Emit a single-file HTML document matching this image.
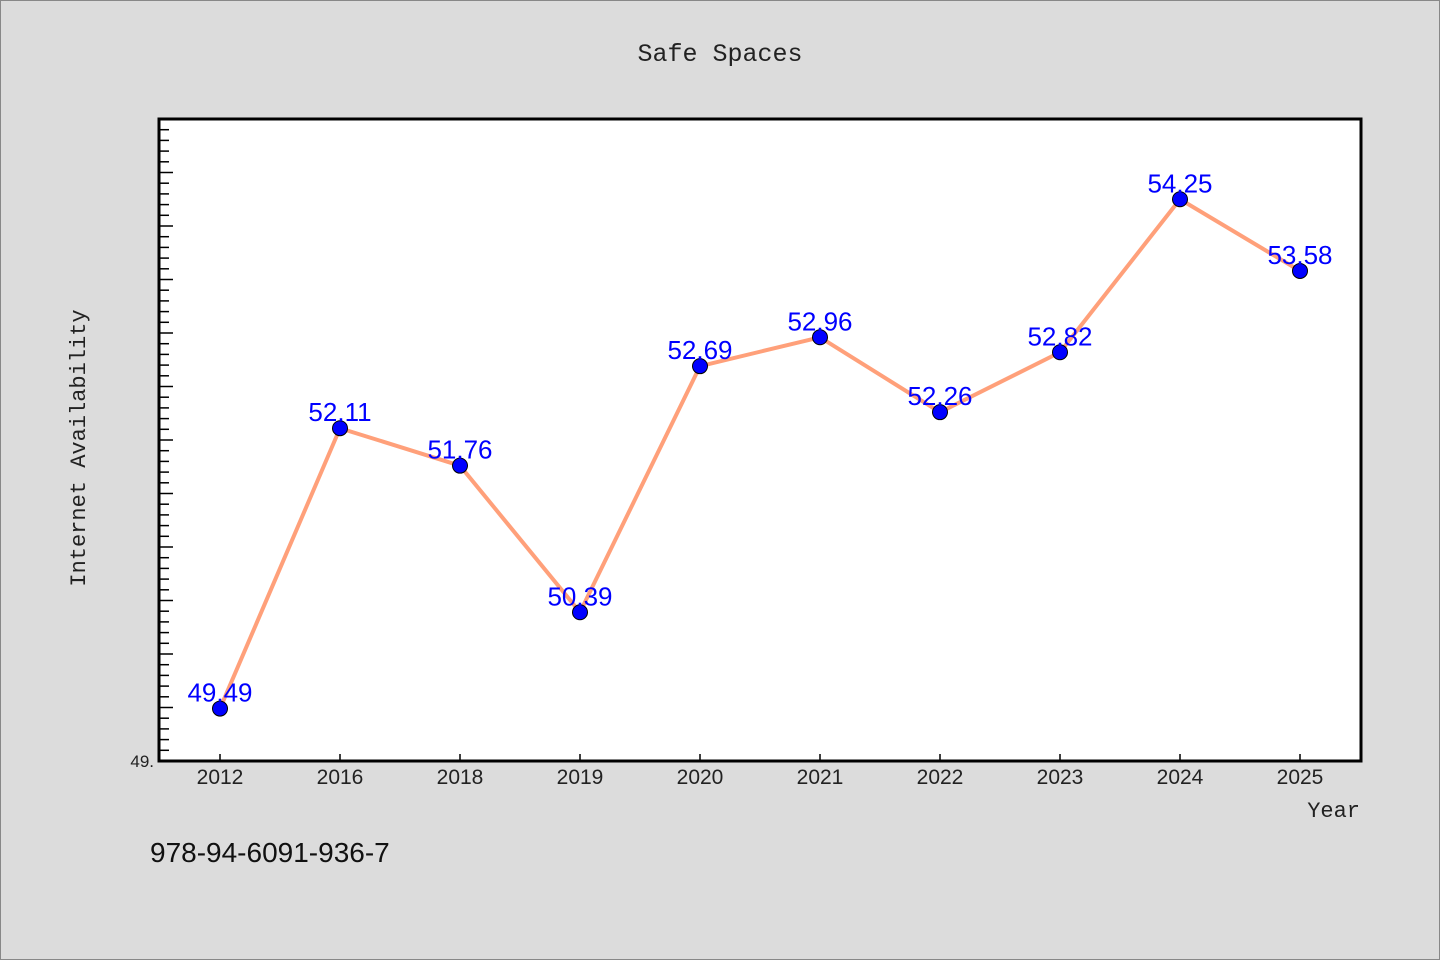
<!DOCTYPE html>
<html><head><meta charset="utf-8"><style>
html,body{margin:0;padding:0;background:#dcdcdc;}
svg{display:block;font-family:"Liberation Mono","DejaVu Sans Mono",monospace;}
</style></head><body>
<svg id="c" width="1440" height="960">
<rect x="0.5" y="0.5" width="1439" height="959" fill="#dcdcdc" stroke="#888"/>
<text x="720" y="61" text-anchor="middle" font-size="25" fill="#222">Safe Spaces</text>
<rect x="159" y="119" width="1202" height="642" fill="#fff"/>
<g id="ticks"></g>
<g id="series"></g>
<rect x="159" y="119" width="1202" height="642" fill="none" stroke="#000" stroke-width="3"/>
<text x="85" y="448" transform="rotate(-90 85 448)" text-anchor="middle" font-size="22" fill="#222">Internet Availability</text>
<text x="1360" y="817" text-anchor="end" font-size="22" fill="#222">Year</text>
<text x="150" y="862" font-family="Liberation Sans, sans-serif" font-size="28" fill="#111">978-94-6091-936-7</text>
</svg>
<script>
const categories=["2012","2016","2018","2019","2020","2021","2022","2023","2024","2025"];
const values=[49.49,52.11,51.76,50.39,52.69,52.96,52.26,52.82,54.25,53.58];
const valueLabels=["49.49","52.11","51.76","50.39","52.69","52.96","52.26","52.82","54.25","53.58"];
const yMin=49,yMax=55;
const L=159,R=1361,T=119,B=761;
const NS="http://www.w3.org/2000/svg";
function y(v){return B-(v-yMin)/(yMax-yMin)*(B-T);}
function x(i){return 220+i*120;}
function mk(t,a,p){const e=document.createElementNS(NS,t);for(const k in a)e.setAttribute(k,a[k]);p.appendChild(e);return e;}
const tk=document.getElementById('ticks');
for(let i=0;i<=60;i++){
  const v=yMin+i*0.1, yy=y(v), major=i%5===0;
  const t=mk('line',{x1:L,x2:L+(major?14:10),y1:yy,y2:yy,stroke:'#000','stroke-width':1.5},tk);
  
  
}
const yl=mk('text',{x:154,y:B+6,'text-anchor':'end','font-size':17,fill:'#222','font-family':'Liberation Sans, sans-serif'},tk);
yl.textContent='49.';


categories.forEach((c,i)=>{
  const t=mk('line',{x1:x(i),x2:x(i),y1:B-7,y2:B,stroke:'#000','stroke-width':1.5},tk);
  
  
  const l=mk('text',{x:x(i),y:B+23,'text-anchor':'middle','font-size':21,fill:'#222','font-family':'Liberation Sans, sans-serif'},tk);
  l.textContent=c;
  
  
});
const sg=document.getElementById('series');
const pl=mk('polyline',{points:values.map((v,i)=>x(i)+','+y(v)).join(' '),fill:'none',stroke:'#ffa07a','stroke-width':4,'stroke-linejoin':'round'},sg);


values.forEach((v,i)=>{
  const c=mk('circle',{cx:x(i),cy:y(v),r:7.5,fill:'#0000ff',stroke:'#000','stroke-width':1},sg);
  
  
  const t=mk('text',{x:x(i),y:y(v)-7,'text-anchor':'middle','font-size':26,fill:'#0000ff','font-family':'Liberation Sans, sans-serif'},sg);
  t.textContent=valueLabels[i];
  
  
});
</script>
</body></html>
